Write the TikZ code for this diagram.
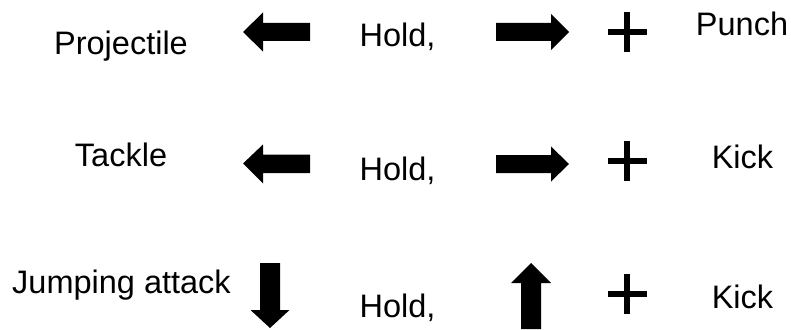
\documentclass[tikz,border=0pt]{standalone}
\usepackage{fontspec}
\setmainfont{Liberation Sans}
\begin{document}
\begin{tikzpicture}[x=1pt,y=-1pt,
  lbl/.style={anchor=base,inner sep=0pt,font=\fontsize{32.5}{38}\selectfont},
  arr/.style={fill=black},
  plusbar/.style={line width=5.5pt}]
\useasboundingbox (0,0) rectangle (791,329);
% labels
\node[lbl] (proj) at (121,54) {Projectile};
\node[lbl] (tack) at (121,166) {Tackle};
\node[lbl] (jump) at (121.5,293) {Jumping attack};
\node[lbl] (hold1) at (397.5,46) {Hold,};
\node[lbl] (hold2) at (397.5,180) {Hold,};
\node[lbl] (hold3) at (397.5,317) {Hold,};
\node[lbl] (punch) at (742,36) {Punch};
\node[lbl] (kick2) at (742.5,168) {Kick};
\node[lbl] (kick3) at (742.5,308) {Kick};
% arrows row 1
\fill[arr] (243,32) -- (263,12.5) -- (263,23) -- (310,23) -- (310,41) -- (263,41) -- (263,51.5) -- cycle;
\fill[arr] (569,32) -- (551,14) -- (551,23) -- (496,23) -- (496,41) -- (551,41) -- (551,50) -- cycle;
% arrows row 2
\fill[arr] (243,163.5) -- (263,144.5) -- (263,154.5) -- (310,154.5) -- (310,173) -- (263,173) -- (263,183.5) -- cycle;
\fill[arr] (569,164) -- (551,146.5) -- (551,155) -- (496,155) -- (496,173) -- (551,173) -- (551,181.5) -- cycle;
% arrows row 3
\fill[arr] (270,328) -- (250.5,310) -- (260,310) -- (260,263) -- (280,263) -- (280,310) -- (289.5,310) -- cycle;
\fill[arr] (531,263) -- (511,283) -- (521,283) -- (521,329) -- (541,329) -- (541,283) -- (551,283) -- cycle;
% plus signs
\foreach \y in {32,161,294}{
  \draw[plusbar] (608,\y) -- (647,\y);
  \draw[plusbar] (627,\y-20) -- (627,\y+20);
}
\end{tikzpicture}
\end{document}
